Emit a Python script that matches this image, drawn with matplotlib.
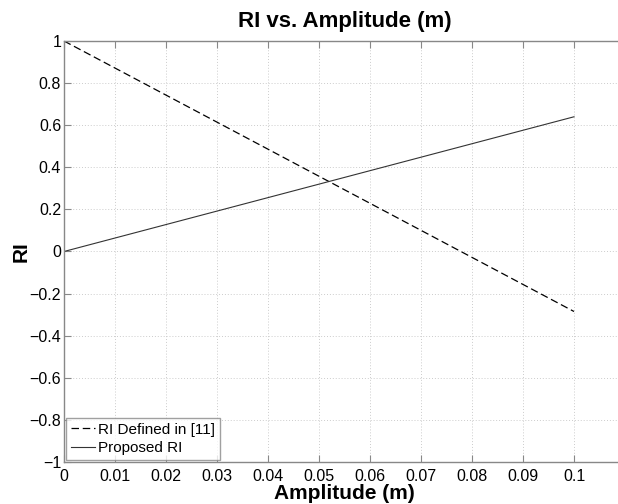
import matplotlib
matplotlib.use("Agg")
import matplotlib.pyplot as plt

# RI curves sampled against oscillation amplitude
amplitude = [0.0, 0.1]
ri_defined = [1.0, -0.285]
ri_proposed = [0.0, 0.64]

x_ticks = [0, 0.01, 0.02, 0.03, 0.04, 0.05, 0.06, 0.07, 0.08, 0.09, 0.1]
x_tick_labels = ["0", "0.01", "0.02", "0.03", "0.04", "0.05", "0.06", "0.07", "0.08", "0.09", "0.1"]
y_ticks = [-1, -0.8, -0.6, -0.4, -0.2, 0, 0.2, 0.4, 0.6, 0.8, 1]
y_tick_labels = ["\u22121", "\u22120.8", "\u22120.6", "\u22120.4", "\u22120.2", "0",
                 "0.2", "0.4", "0.6", "0.8", "1"]

plt.rcParams["font.family"] = ["Liberation Sans", "DejaVu Sans"]

W, H = 618, 504
fig = plt.figure(figsize=(W / 100, H / 100), dpi=100)
left, top, bottom = 64, 41, 462
right = 64 + 0.11 * 5100
ax = fig.add_axes([left / W, 1 - bottom / H, (right - left) / W, (bottom - top) / H])

ax.plot(amplitude, ri_defined, color="black", linestyle=(0, (6, 3)), linewidth=0.9,
        label="RI Defined in [11]")
ax.plot(amplitude, ri_proposed, color="#333333", linestyle="-", linewidth=0.8,
        label="Proposed RI")

ax.set_xlim(0, 0.11)
ax.set_ylim(-1, 1)
ax.set_xticks(x_ticks)
ax.set_xticklabels(x_tick_labels)
ax.set_yticks(y_ticks)
ax.set_yticklabels(y_tick_labels)

ax.grid(True, color="#cccccc", linestyle=(0, (1, 2)), linewidth=0.7)
for s in ax.spines.values():
    s.set_color("#888888")
    s.set_linewidth(1.0)
ax.tick_params(direction="in", length=5, width=0.8, color="#888888",
               labelsize=11.5, top=True, right=True)
ax.tick_params(axis="x", pad=5)
ax.tick_params(axis="y", pad=2)

ax.set_title("RI vs. Amplitude (m)", fontsize=16, fontweight="bold", pad=10)
ax.set_xlabel("Amplitude (m)", fontsize=15, fontweight="bold", labelpad=0)
ax.set_ylabel("RI", fontsize=15, fontweight="bold", labelpad=-1)

leg = ax.legend(loc="lower left", fontsize=11, frameon=True, fancybox=False,
                borderpad=0.3, handlelength=1.6, handletextpad=0.2,
                labelspacing=0.3, borderaxespad=0.15)
leg.get_frame().set_edgecolor("#888888")
leg.get_frame().set_linewidth(1.0)

fig.savefig("out.png", dpi=100)
